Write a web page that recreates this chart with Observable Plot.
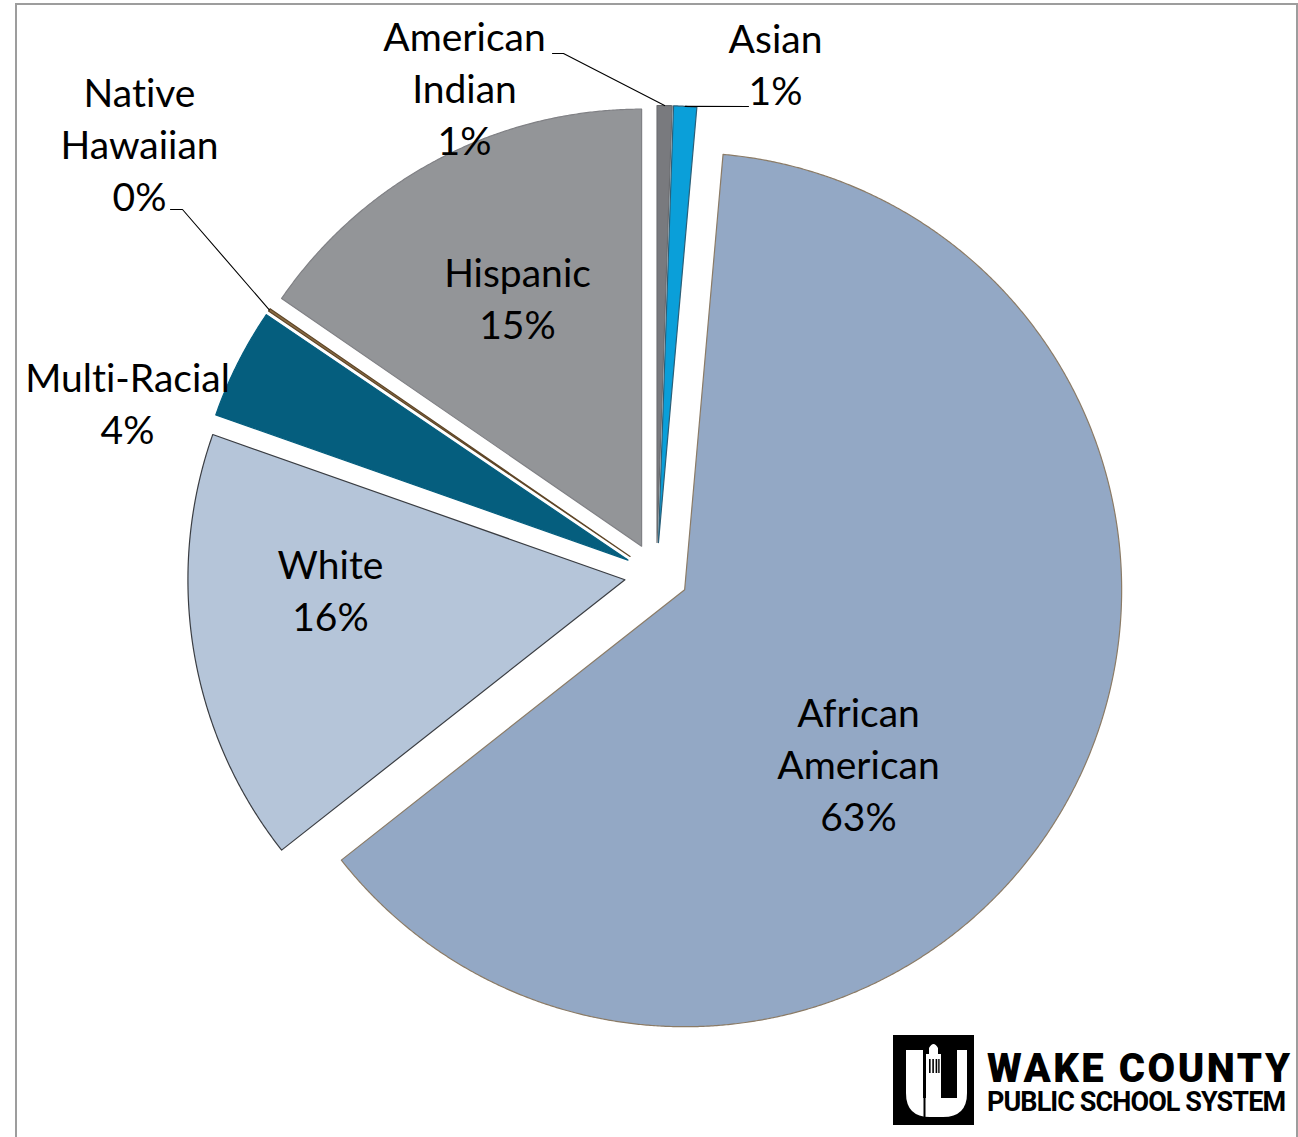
<!DOCTYPE html>
<html><head><meta charset="utf-8">
<script src="https://cdn.jsdelivr.net/npm/d3@7"></script>
<script src="https://cdn.jsdelivr.net/npm/@observablehq/plot@0.6"></script>
<style>
body{margin:0;background:#fff;}
#wrap{position:relative;width:1298px;height:1137px;overflow:hidden;background:#fff;}
#frame{position:absolute;left:15px;top:3px;width:1283px;height:1200px;border:2px solid #9d9d9d;border-bottom:none;box-sizing:border-box;}
#chart{position:absolute;left:0;top:0;}
#logo{position:absolute;left:0;top:0;}
svg text{font-variant-ligatures:none;}
</style></head>
<body>
<div id="wrap"><div id="frame"></div><div id="chart"></div>
<svg id="logo" width="1298" height="1137" viewBox="0 0 1298 1137">
  <rect x="893" y="1035" width="81" height="90" fill="#000"/>
  <path d="M906,1050 H967 V1093 Q967,1117 943,1117 H930 Q906,1117 906,1093 Z" fill="#fff"/>
  <rect x="923" y="1050" width="34" height="48" fill="#000"/>
  <path d="M926,1098 V1054 H929 V1048 Q933.5,1040 938,1048 V1054 H941 V1098 Z" fill="#fff"/>
  <rect x="929" y="1059" width="1.6" height="14" fill="#000"/>
  <rect x="932.3" y="1059" width="1.6" height="14" fill="#000"/>
  <rect x="935.6" y="1059" width="1.6" height="14" fill="#000"/>
  <rect x="938.2" y="1059" width="1.4" height="14" fill="#000"/>
  <rect x="923.5" y="1098" width="2" height="19" fill="#000"/>
  <text id="logo1" x="987" y="1082" font-family="Roboto, 'DejaVu Sans', sans-serif" font-weight="900" font-size="40" fill="#000">WAKE COUNTY</text>
  <text id="logo2" x="987" y="1111" font-family="Roboto, 'DejaVu Sans', sans-serif" font-weight="700" font-size="27" fill="#000">PUBLIC SCHOOL SYSTEM</text>
</svg>
</div>
<script>
// ---- data ----
const categories = ["American Indian", "Asian", "African American", "White", "Multi-Racial", "Native Hawaiian", "Hispanic"];
const shares = [0.55, 0.85, 62.95, 16.0, 4.1, 0.1, 15.4];
const labelNames = ["American\nIndian", "Asian", "African\nAmerican", "White", "Multi-Racial", "Native\nHawaiian", "Hispanic"];

// ---- styles ----
const fills = ["#797a7e", "#0a9fd9", "#93a8c5", "#b5c5d9", "#055e7e", "#8b6d45", "#939598"];
const outlines = ["#6a6b6e", "#2b5f78", "#8b7b66", "#3a3d42", "#055e7e", "#5e4628", "#808185"];

// ---- layout ----
const W = 1298, H = 1137;
const CX = 656, CY = 574, R = 437, EXPLODE = 32;
const labelAt = {
  "American Indian": [464, 86],
  "Asian": [775, 62],
  "African American": [858, 762],
  "White": [330, 588],
  "Multi-Racial": [127, 401],
  "Native Hawaiian": [139, 142],
  "Hispanic": [517, 296]
};
const leaderStart = {
  "American Indian": [[552, 53], [563, 53]],
  "Asian": [[748, 106]],
  "Native Hawaiian": [[170, 209], [182, 209]]
};

const data = categories.map((name, i) => ({name, share: shares[i], fill: fills[i], outline: outlines[i], label: labelNames[i]}));
const arcs = d3.pie().sort(null).value(d => d.share)(data);

const polys = [];
const attach = {};
for (const a of arcs) {
  const mid = (a.startAngle + a.endAngle) / 2;
  const ox = CX + EXPLODE * Math.sin(mid), oy = CY - EXPLODE * Math.cos(mid);
  const d = a.data;
  polys.push({name: d.name, x: ox, y: oy, fill: d.fill, outline: d.outline});
  const n = Math.max(2, Math.ceil((a.endAngle - a.startAngle) / (Math.PI / 720)));
  for (let k = 0; k <= n; k++) {
    const t = a.startAngle + (a.endAngle - a.startAngle) * k / n;
    polys.push({name: d.name, x: ox + R * Math.sin(t), y: oy - R * Math.cos(t), fill: d.fill, outline: d.outline});
  }
  attach[d.name] = [ox + R * Math.sin(mid), oy - R * Math.cos(mid)];
}

const leaders = [];
for (const [name, pts] of Object.entries(leaderStart)) {
  for (const p of pts) leaders.push({name, x: p[0], y: p[1]});
  leaders.push({name, x: attach[name][0], y: attach[name][1]});
}

const labels = arcs.map(a => ({
  name: a.data.name,
  text: a.data.label + "\n" + Math.round(a.data.share) + "%",
  x: labelAt[a.data.name][0],
  y: labelAt[a.data.name][1]
}));

const chart = Plot.plot({
  width: W, height: H, margin: 0,
  x: {domain: [0, W], range: [0, W], axis: null},
  y: {domain: [0, H], range: [0, H], axis: null},
  color: {type: "identity"},
  style: {background: "transparent", fontFamily: "Lato, 'Open Sans', sans-serif"},
  marks: [
    Plot.line(polys, {x: "x", y: "y", z: "name", fill: "fill", stroke: "outline", strokeWidth: 1.2, curve: "linear-closed"}),
    Plot.line(leaders, {x: "x", y: "y", z: "name", stroke: "#000", strokeWidth: 1.1}),
    Plot.text(labels, {x: "x", y: "y", text: "text", fontSize: 39, lineHeight: 1.333, textAnchor: "middle", lineAnchor: "middle", fill: "#000"})
  ]
});
document.getElementById("chart").appendChild(chart);

// fit logo wordmark widths with letter-spacing (no glyph scaling)
for (const [id, target] of [["logo1", 303], ["logo2", 299]]) {
  const el = document.getElementById(id);
  const n = el.textContent.length;
  const w = el.getComputedTextLength();
  el.setAttribute("letter-spacing", ((target - w) / (n - 1)).toFixed(2));
}
</script>
</body></html>
